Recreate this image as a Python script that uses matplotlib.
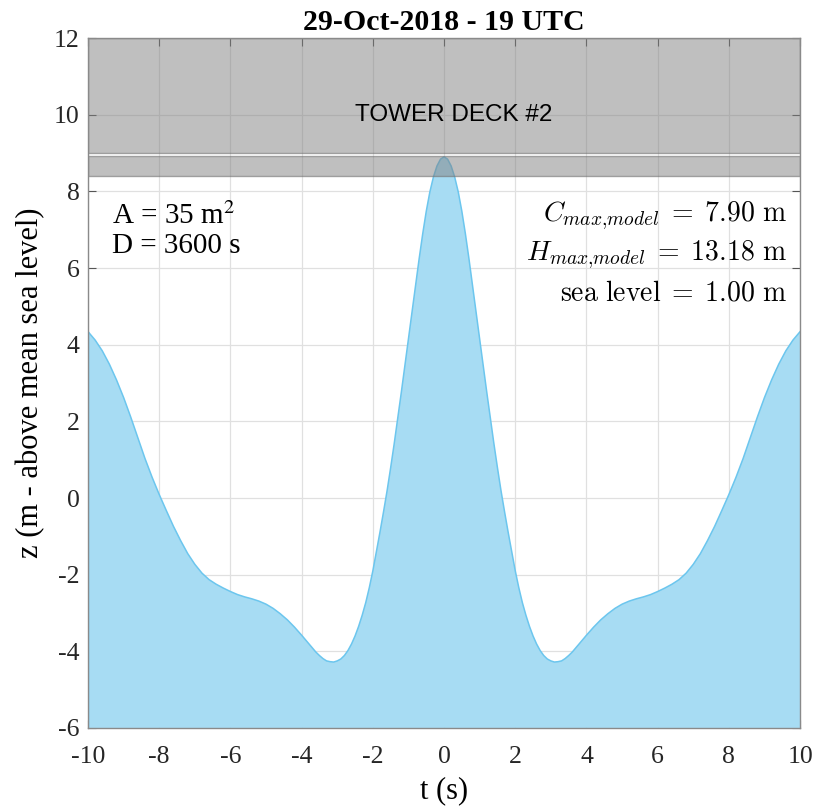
import numpy as np
import matplotlib
matplotlib.use("Agg")
import matplotlib.pyplot as plt
from matplotlib.patches import Rectangle

# Surface elevation profile around the crest (s, m above mean sea level)
t = [-10.0, -9.8, -9.6, -9.4, -9.2, -9.0, -8.8, -8.6, -8.4, -8.2, -8.0, -7.8, -7.6,
     -7.4, -7.2, -7.0, -6.8, -6.6, -6.4, -6.2, -6.0, -5.8, -5.6, -5.4, -5.2, -5.0,
     -4.8, -4.6, -4.4, -4.2, -4.0, -3.9, -3.8, -3.7, -3.6, -3.5, -3.4, -3.3, -3.2,
     -3.1, -3.0, -2.9, -2.8, -2.7, -2.6, -2.5, -2.4, -2.3, -2.2, -2.1, -2.0, -1.9,
     -1.8, -1.7, -1.6, -1.5, -1.4, -1.3, -1.2, -1.1, -1.0, -0.9, -0.8, -0.7, -0.6,
     -0.5, -0.4, -0.3, -0.2, -0.1, 0.0, 0.1, 0.2, 0.3, 0.4, 0.5, 0.6, 0.7, 0.8, 0.9,
     1.0, 1.1, 1.2, 1.3, 1.4, 1.5, 1.6, 1.7, 1.8, 1.9, 2.0, 2.1, 2.2, 2.3, 2.4, 2.5,
     2.6, 2.7, 2.8, 2.9, 3.0, 3.1, 3.2, 3.3, 3.4, 3.5, 3.6, 3.7, 3.8, 3.9, 4.0, 4.2,
     4.4, 4.6, 4.8, 5.0, 5.2, 5.4, 5.6, 5.8, 6.0, 6.2, 6.4, 6.6, 6.8, 7.0, 7.2, 7.4,
     7.6, 7.8, 8.0, 8.2, 8.4, 8.6, 8.8, 9.0, 9.2, 9.4, 9.6, 9.8, 10.0]
z = [4.34, 4.12, 3.84, 3.49, 3.08, 2.62, 2.11, 1.57, 1.03, 0.54, 0.09, -0.33, -0.74,
     -1.11, -1.45, -1.73, -1.96, -2.13, -2.25, -2.35, -2.44, -2.52, -2.58, -2.63, -2.69, -2.77,
     -2.88, -3.02, -3.18, -3.37, -3.58, -3.69, -3.80, -3.91, -4.02, -4.11, -4.19, -4.25, -4.27,
     -4.28, -4.25, -4.20, -4.11, -3.98, -3.81, -3.60, -3.35, -3.06, -2.73, -2.34, -1.90, -1.40,
     -0.89, -0.36, 0.19, 0.79, 1.42, 2.08, 2.76, 3.45, 4.15, 4.85, 5.55, 6.24, 6.89,
     7.48, 7.98, 8.37, 8.66, 8.84, 8.90, 8.84, 8.66, 8.37, 7.98, 7.48, 6.89, 6.24, 5.55, 4.85,
     4.15, 3.45, 2.76, 2.08, 1.42, 0.79, 0.19, -0.36, -0.89, -1.40, -1.90, -2.34, -2.73, -3.06, -3.35, -3.60,
     -3.81, -3.98, -4.11, -4.20, -4.25, -4.28, -4.27, -4.25, -4.19, -4.11, -4.02, -3.91, -3.80, -3.69, -3.58, -3.37,
     -3.18, -3.02, -2.88, -2.77, -2.69, -2.63, -2.58, -2.52, -2.44, -2.35, -2.25, -2.13, -1.96, -1.73, -1.45, -1.11,
     -0.74, -0.33, 0.09, 0.54, 1.03, 1.57, 2.11, 2.62, 3.08, 3.49, 3.84, 4.12, 4.34]

# Deck structure levels (m)
deck_upper = (9.0, 12.0)
deck_lower = (8.4, 8.92)

x_ticks = [-10, -8, -6, -4, -2, 0, 2, 4, 6, 8, 10]
y_ticks = [-6, -4, -2, 0, 2, 4, 6, 8, 10, 12]

serif = ["Liberation Serif", "DejaVu Serif"]

fig = plt.figure(figsize=(8.29, 8.06), dpi=100)
ax = fig.add_axes([0.1062, 0.0968, 0.8589, 0.856])

ax.fill_between(t, z, -6, facecolor="#a7dcf3", edgecolor="none", zorder=2)
ax.plot(t, z, color="#6cc6ee", lw=1.1, zorder=3, solid_joinstyle="round")
ax.plot([t[0], t[0]], [-6, z[0]], color="#6cc6ee", lw=1.0, zorder=3)

for lo, hi in (deck_upper, deck_lower):
    ax.add_patch(Rectangle((-10, lo), 20, hi - lo, facecolor=(0.5, 0.5, 0.5, 0.5),
                           edgecolor=(0.45, 0.45, 0.45, 0.6), lw=1.0, zorder=4))

ax.text(0.28, 10.0, "TOWER DECK #2", ha="center", va="center", fontsize=17.5,
        family=["Liberation Sans", "DejaVu Sans"], zorder=5)

ax.text(-9.33, 7.14, r"A = 35 m$^2$", ha="left", va="baseline", fontsize=21,
        family=serif, math_fontfamily="stix", zorder=5)
ax.text(-9.33, 6.39, "D = 3600 s", ha="left", va="baseline", fontsize=21,
        family=serif, zorder=5)

ax.text(9.63, 7.21, r"$C_{max{,}model}\;=\;7.90\ \mathrm{m}$", ha="right", va="baseline",
        fontsize=20, math_fontfamily="cm", zorder=5)
ax.text(9.63, 6.21, r"$H_{max{,}model}\;=\;13.18\ \mathrm{m}$", ha="right", va="baseline",
        fontsize=20, math_fontfamily="cm", zorder=5)
ax.text(9.63, 5.15, r"$\mathrm{sea\ level}\;=\;1.00\ \mathrm{m}$", ha="right", va="baseline",
        fontsize=20, math_fontfamily="cm", zorder=5)

ax.set_xlim(-10, 10)
ax.set_ylim(-6, 12)
ax.set_xticks(x_ticks)
ax.set_yticks(y_ticks)
ax.set_xticklabels([str(v) for v in x_ticks], family=serif, fontsize=18.5)
ax.set_yticklabels([str(v) for v in y_ticks], family=serif, fontsize=18.5)
ax.tick_params(direction="in", length=6, width=0.8, color="#555555",
               top=True, right=True, labelcolor="#262626")
ax.tick_params(axis="x", pad=13)
ax.tick_params(axis="y", pad=6)
ax.grid(True, color="#e0e0e0", lw=0.9, zorder=0)
ax.set_axisbelow(True)
for s in ax.spines.values():
    s.set_color("#8a8a8a")
    s.set_linewidth(1.0)
    s.set_zorder(6)

ax.set_xlabel("t (s)", family=serif, fontsize=22, labelpad=6)
ax.set_ylabel("z (m - above mean sea level)", family=serif, fontsize=22, labelpad=6)
ax.set_title("29-Oct-2018 - 19 UTC", family=serif, fontsize=21.5, fontweight="bold", pad=6)

fig.savefig("out.png", dpi=100, facecolor="white")
